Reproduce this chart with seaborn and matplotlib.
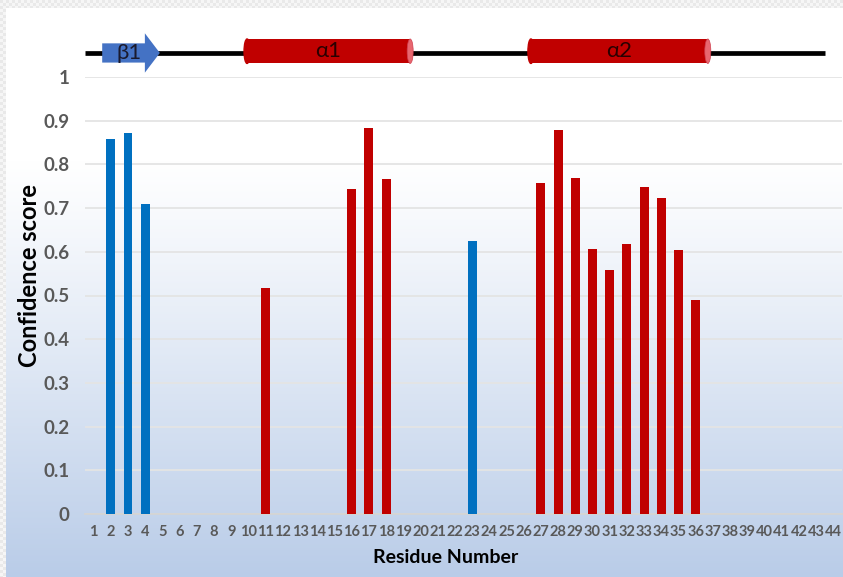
import numpy as np
import pandas as pd
import matplotlib
matplotlib.use("Agg")
import matplotlib.pyplot as plt
import matplotlib.patches as mpatches
import seaborn as sns

# Per-residue confidence scores (residues 1-44)
residues = list(range(1, 45))
scores = [0, 0.858, 0.872, 0.709, 0, 0, 0, 0, 0, 0,
          0.517, 0, 0, 0, 0, 0.743, 0.883, 0.767, 0, 0,
          0, 0, 0.625, 0, 0, 0, 0.757, 0.878, 0.770, 0.606,
          0.559, 0.617, 0.748, 0.724, 0.605, 0.489, 0, 0, 0, 0,
          0, 0, 0, 0]
strand_residues = [2, 3, 4, 23]
structure = ["strand" if r in strand_residues else "helix" for r in residues]

# Secondary structure elements: (label, kind, start residue, end residue)
elements = [("β1", "strand", 1.5, 4.85),
            ("α1", "helix", 9.9, 19.4),
            ("α2", "helix", 26.4, 36.7)]

yticks = [0, 0.1, 0.2, 0.3, 0.4, 0.5, 0.6, 0.7, 0.8, 0.9, 1]
ytick_labels = ["0", "0.1", "0.2", "0.3", "0.4", "0.5", "0.6", "0.7", "0.8", "0.9", "1"]

bar_colors = {"strand": "#0070c0", "helix": "#c00000"}

df = pd.DataFrame({"residue": [str(r) for r in residues],
                   "score": scores,
                   "structure": structure})

sns.set_theme(style="white")
plt.rcParams["font.family"] = ["Lato", "DejaVu Sans"]

W, H = 843, 577
fig = plt.figure(figsize=(W / 100, H / 100), dpi=100)

# Background: white-to-light-blue gradient with a faint checker strip on top/left
bg = fig.add_axes([0, 0, 1, 1], zorder=-10)
yy = np.arange(H)[:, None]
t = np.clip((yy - 160) / (H - 160), 0, 1) ** 1.1
top = np.array([1.0, 1.0, 1.0])
bot = np.array([0xb9, 0xcc, 0xe8]) / 255
img = np.ones((H, W, 3)) * (top + (bot - top) * t[..., None])
cy, cx = np.mgrid[0:H, 0:W]
checker = ((cy // 3 + cx // 3) % 2).astype(float)
chk = np.where(checker[..., None] > 0, 0.965, 0.915) * np.ones(3)
mask = (cy < 8) | (cx < 6)
img[mask] = chk[mask]
bg.imshow(img, aspect="auto", extent=[0, 1, 0, 1], origin="upper")
bg.axis("off")

ax = fig.add_axes([85 / W, (H - 514) / H, 757 / W, 437 / H])
ax.set_facecolor("none")

sns.barplot(data=df, x="residue", y="score", hue="structure", palette=bar_colors,
            dodge=False, width=0.52, linewidth=0, saturation=1, legend=False,
            ax=ax, zorder=3)

ax.set_xlim(-0.5, 43.5)
ax.set_ylim(0, 1)
ax.set_yticks(yticks)
ax.set_yticklabels(ytick_labels)
ax.grid(axis="y", color="#e4e4e4", linewidth=1.3, zorder=0)
ax.set_axisbelow(True)
for s in ["left", "right", "top"]:
    ax.spines[s].set_visible(False)
ax.spines["bottom"].set_color("#d4d4d4")
ax.spines["bottom"].set_linewidth(1.3)
ax.tick_params(axis="both", length=0, labelcolor="#595959")
ax.tick_params(axis="y", pad=11, labelsize=13.5)
ax.tick_params(axis="x", pad=8, labelsize=10.5)
for lab in ax.get_xticklabels() + ax.get_yticklabels():
    lab.set_fontweight("bold")

ax.set_ylabel("Confidence score", fontsize=17, fontweight="bold", color="black")
ax.set_xlabel("Residue Number", fontsize=14, fontweight="bold", color="black")
ax.yaxis.set_label_coords(-0.0575, 0.545)
ax.xaxis.set_label_coords(0.477, -0.080)

# Secondary structure track above the bars
track_y = 1.055
ax.plot([-0.52, 42.5], [track_y, track_y], color="black", lw=3.4,
        solid_capstyle="butt", clip_on=False, zorder=4)
for label, kind, start, end in elements:
    x0, x1 = start - 1, end - 1
    if kind == "strand":
        arrow = mpatches.FancyArrow(x0, track_y, x1 - x0, 0, width=0.044,
                                    head_width=0.09, head_length=0.87,
                                    length_includes_head=True, color="#4472c4",
                                    linewidth=0, clip_on=False, zorder=5)
        ax.add_patch(arrow)
        ax.text(x0 + 1.55, track_y, label, ha="center", va="center",
                fontsize=16, color="#1a1a2e", clip_on=False, zorder=6)
    else:
        h = 0.056
        yc = track_y + 0.004
        ax.add_patch(mpatches.Ellipse((x0 + 0.02, yc), 0.35, h, color="#c00000",
                                      clip_on=False, zorder=5))
        ax.add_patch(mpatches.Rectangle((x0, yc - h / 2), x1 - x0, h, color="#c00000",
                                        linewidth=0, clip_on=False, zorder=5))
        ax.add_patch(mpatches.Ellipse((x1, yc), 0.35, h, facecolor="#e8676f",
                                      edgecolor="#d04050", linewidth=0.5,
                                      clip_on=False, zorder=6))
        ax.text((x0 + x1) / 2, yc, label, ha="center", va="center",
                fontsize=16, color="#2a0000", clip_on=False, zorder=7)

fig.savefig("out.png", dpi=100)
